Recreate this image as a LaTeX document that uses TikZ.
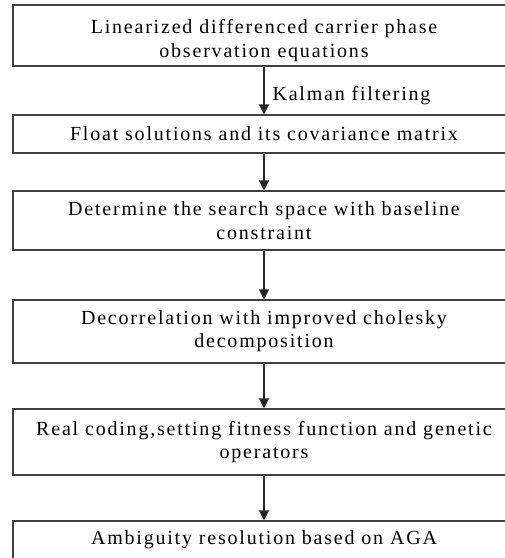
\documentclass[tikz,border=0pt]{standalone}
\usepackage{fontspec}
\setmainfont{Liberation Serif}
\newfontfamily\boxfont[LetterSpace=9]{Liberation Serif}
\usetikzlibrary{arrows.meta}

\begin{document}
\begin{tikzpicture}[x=0.75pt,y=-0.75pt]
    \tikzstyle{box} = [draw=black!75, line width=0.8pt, rectangle, align=center,
        minimum width=376.5pt, inner sep=0pt, font=\boxfont\fontsize{15}{17.5}\selectfont]
    \tikzstyle{arr} = [draw=black!85, line width=0.8pt, -{Triangle[width=7.5pt,length=7.5pt]}]
    \tikzstyle{ann} = [draw=none,fill=none,right=6pt,inner sep=0pt, font=\boxfont\fontsize{15}{17.5}\selectfont]

    \useasboundingbox (0,0) rectangle (505,558);
    \clip (0,0) rectangle (505,558);

    \node[box, minimum height=45.75pt] (1) at (264,35.5)
        {\rule{0pt}{18pt}Linearized differenced carrier phase\\ observation equations};
    \node[box, minimum height=28.5pt] (2) at (264,134)
        {Float solutions and its covariance matrix};
    \node[box, minimum height=44.25pt] (3) at (264,220.5)
        {Determine the search space with baseline\\ constraint};
    \node[box, minimum height=47.25pt] (4) at (264,331.5)
        {Decorrelation with improved cholesky\\ decomposition};
    \node[box, minimum height=49.5pt] (5) at (264,442)
        {Real coding,setting fitness function and genetic\\ operators};
    \node[box, minimum height=28.5pt] (6) at (264,540)
        {Ambiguity resolution based on AGA};

    \draw[arr]  (1) -- node[ann, pos=0.6]{Kalman filtering} (2);
    \draw[arr]  (2) -- (3);
    \draw[arr]  (3) -- (4);
    \draw[arr]  (4) -- (5);
    \draw[arr]  (5) -- (6);

\end{tikzpicture}
\end{document}
